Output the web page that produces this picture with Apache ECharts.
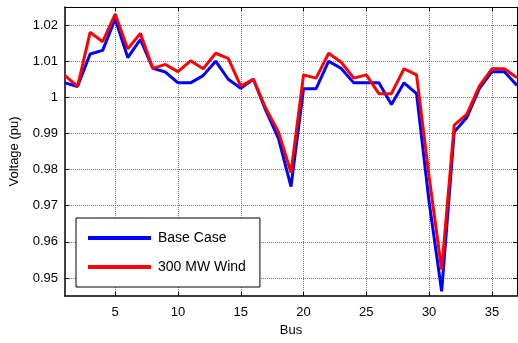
<!DOCTYPE html>
<html><head><meta charset="utf-8">
<script src="https://cdn.jsdelivr.net/npm/echarts@6/dist/echarts.min.js"></script>
<style>html,body{margin:0;padding:0;background:#fff}#c{width:518px;height:343px}</style>
</head><body><div id="c"></div>
<script>
const buses = [1,2,3,4,5,6,7,8,9,10,11,12,13,14,15,16,17,18,19,20,21,22,23,24,25,26,27,28,29,30,31,32,33,34,35,36,37];
const baseCase = [1.004,1.003,1.012,1.013,1.0217,1.011,1.016,1.008,1.007,1.004,1.004,1.006,1.010,1.005,1.0025,1.005,0.9963,0.9886,0.9753,1.0024,1.0024,1.010,1.008,1.004,1.004,1.004,0.998,1.004,1.001,0.971,0.9463,0.9904,0.9944,1.0024,1.0071,1.0071,1.0033];
const wind300 = [1.006,1.003,1.018,1.0154,1.023,1.0134,1.0177,1.008,1.0091,1.0071,1.0101,1.0079,1.0122,1.0108,1.0031,1.005,0.9969,0.9904,0.9792,1.0062,1.0053,1.0122,1.0097,1.0053,1.0062,1.001,1.001,1.0079,1.0062,0.978,0.9523,0.9923,0.9953,1.0031,1.0079,1.0079,1.0054];
const xTicks = [5,10,15,20,25,30,35];
const yTicks = [0.95,0.96,0.97,0.98,0.99,1.00,1.01,1.02];
const seriesNames = ['Base Case','300 MW Wind'];

const font = 'Liberation Sans, Arial, sans-serif';
const chart = echarts.init(document.getElementById('c'), null, {renderer:'canvas'});
const grid = {left:63, right:1, top:7, bottom:47};
const dotted = {show:true, lineStyle:{color:'#777', type:[1,1], width:1}};
chart.setOption({
  animation:false,
  backgroundColor:'#fff',
  grid: grid,
  legend: {
    orient:'vertical', left:76, top:218,
    backgroundColor:'#fff', borderColor:'#000', borderWidth:1,
    padding:[12,14,12,12], itemGap:13, itemWidth:63, itemHeight:4, icon:'rect',
    textStyle:{fontFamily:font, fontSize:14, color:'#000', padding:[0,0,0,2], lineHeight:16},
    data: seriesNames
  },
  xAxis: [{
    type:'value', min:1, max:37, position:'bottom',
    name:'Bus', nameLocation:'middle', nameGap:27,
    nameTextStyle:{fontFamily:font, fontSize:13, color:'#000'},
    axisLine:{show:true, onZero:false, lineStyle:{color:'#000', width:1.5}},
    axisTick:{show:true, inside:true, length:4, customValues:xTicks, lineStyle:{color:'#000'}},
    axisLabel:{customValues:xTicks, fontFamily:font, fontSize:13, color:'#000', margin:10},
    splitLine: dotted
  },{
    type:'value', min:1, max:37, position:'top',
    axisLine:{show:true, onZero:false, lineStyle:{color:'#000', width:1}},
    axisTick:{show:true, inside:true, length:4, customValues:xTicks, lineStyle:{color:'#000'}},
    axisLabel:{show:false}, splitLine:{show:false}
  }],
  yAxis: [{
    type:'value', min:0.945, max:1.025, position:'left',
    name:'Voltage (pu)', nameLocation:'middle', nameGap:44,
    nameTextStyle:{fontFamily:font, fontSize:13, color:'#000'},
    axisLine:{show:true, onZero:false, lineStyle:{color:'#000', width:1.5}},
    axisTick:{show:true, inside:true, length:4, customValues:yTicks, lineStyle:{color:'#000'}},
    axisLabel:{customValues:yTicks, fontFamily:font, fontSize:13, color:'#000', margin:7,
      formatter: v => String(+(+v).toFixed(2))},
    splitLine: dotted
  },{
    type:'value', min:0.945, max:1.025, position:'right',
    axisLine:{show:true, onZero:false, lineStyle:{color:'#000', width:1}},
    axisTick:{show:true, inside:true, length:4, customValues:yTicks, lineStyle:{color:'#000'}},
    axisLabel:{show:false}, splitLine:{show:false}
  }],
  series: [
    {name:seriesNames[0], type:'line', symbol:'none', data:buses.map((b,i)=>[b,baseCase[i]]),
     lineStyle:{color:'#0000ff', width:3}, itemStyle:{color:'#0000ff'}, z:2},
    {name:seriesNames[1], type:'line', symbol:'none', data:buses.map((b,i)=>[b,wind300[i]]),
     lineStyle:{color:'#ff0000', width:3}, itemStyle:{color:'#ff0000'}, z:3}
  ]
});
</script></body></html>
